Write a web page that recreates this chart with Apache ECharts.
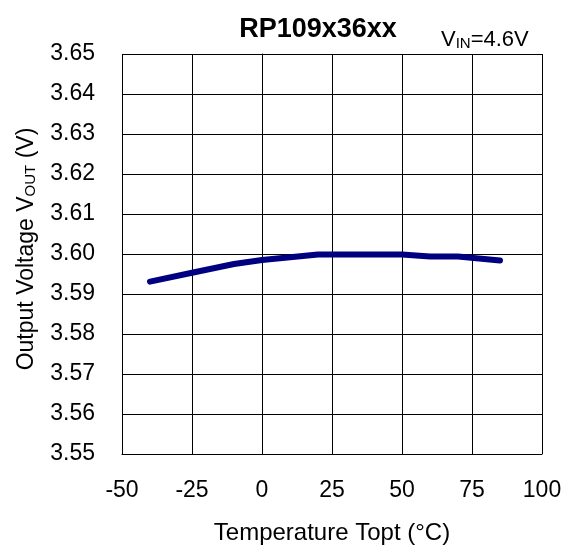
<!DOCTYPE html>
<html><head><meta charset="utf-8">
<script src="https://cdn.jsdelivr.net/npm/echarts@6/dist/echarts.min.js"></script>
<style>html,body{margin:0;padding:0;background:#fff}#c{width:566px;height:545px}</style>
</head><body><div id="c"></div>
<script>
const temps = [-40, -25, -10, 0, 20, 50, 60, 70, 85];
const vout = [3.5931, 3.5953, 3.5975, 3.5985, 3.5999, 3.5999, 3.5994, 3.5994, 3.5984];
const xTicks = [-50, 100, 25];
const yTicks = [3.55, 3.65, 0.01];
const F = "'Liberation Sans', Arial, sans-serif";
const chart = echarts.init(document.getElementById('c'));
chart.setOption({
  animation: false,
  backgroundColor: '#fff',
  title: [
    {text: 'RP109x36xx', left: 313, top: 11, textAlign: 'center',
     textStyle: {fontFamily: F, fontWeight: 'bold', fontSize: 27, color: '#000'}},
    {text: 'V{s|IN}=4.6V', left: 436, top: 23,
     textStyle: {fontFamily: F, fontWeight: 'normal', fontSize: 22, color: '#000',
       rich: {s: {fontFamily: F, fontSize: 15, color: '#000', padding: [8, 0, 0, 0]}}}}
  ],
  grid: {left: 122, right: 24, top: 54, bottom: 91, outerBoundsMode: 'none', containLabel: false},
  xAxis: {
    type: 'value', min: xTicks[0], max: xTicks[1], interval: xTicks[2],
    name: 'Temperature Topt (°C)', nameLocation: 'middle', nameGap: 67,
    nameTextStyle: {fontFamily: F, fontSize: 24, color: '#000'},
    axisLine: {show: true, lineStyle: {color: '#000', width: 1}},
    axisTick: {show: false},
    axisLabel: {fontFamily: F, fontSize: 23, color: '#000', margin: 25},
    splitLine: {show: true, lineStyle: {color: '#000', width: 1}}
  },
  yAxis: {
    type: 'value', min: yTicks[0], max: yTicks[1], interval: yTicks[2],
    name: 'Output Voltage V{s|OUT} (V)', nameLocation: 'middle', nameGap: 84,
    nameTextStyle: {fontFamily: F, fontSize: 23, color: '#000', padding: [0, 0, 0, 10],
      rich: {s: {fontFamily: F, fontSize: 15, color: '#000', padding: [8, 0, 0, 0]}}},
    axisLine: {show: true, lineStyle: {color: '#000', width: 1}},
    axisTick: {show: true, inside: true, length: 6, lineStyle: {color: '#000'}},
    axisLabel: {fontFamily: F, fontSize: 23, color: '#000', margin: 27,
      formatter: v => v.toFixed(2)},
    splitLine: {show: true, lineStyle: {color: '#000', width: 1}}
  },
  series: [{
    type: 'line', data: temps.map((t, i) => [t, vout[i]]),
    showSymbol: false, symbol: 'none',
    lineStyle: {color: '#000080', width: 6, cap: 'round', join: 'round'}
  }]
});
</script></body></html>
